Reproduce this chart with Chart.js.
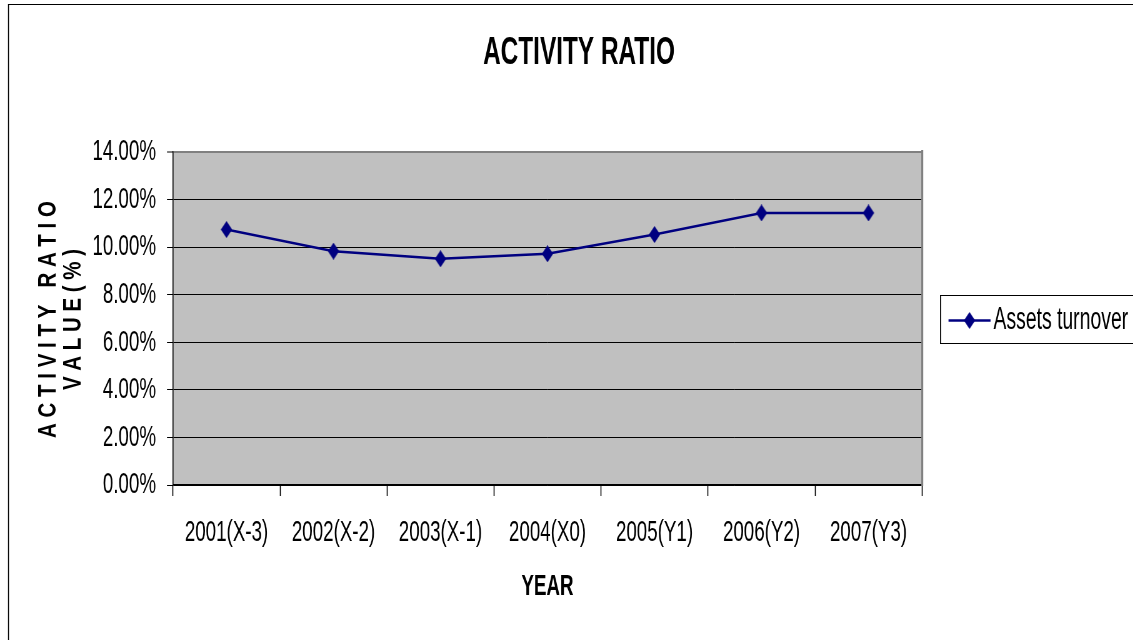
<!DOCTYPE html>
<html lang="en">
<head>
    <meta charset="UTF-8">
    <title>Activity Ratio</title>
    <script src="https://cdn.jsdelivr.net/npm/chart.js"></script>
    <style>
        html, body {
            margin: 0;
            padding: 0;
            background: #ffffff;
            overflow: hidden;
        }

        #ratioChart {
            display: block;
        }
    </style>
</head>
<body>
    <canvas id="ratioChart"></canvas>

    <script>
        const years = ['2001(X-3)', '2002(X-2)', '2003(X-1)', '2004(X0)', '2005(Y1)', '2006(Y2)', '2007(Y3)'];
        const assetsTurnover = [10.74, 9.83, 9.51, 9.72, 10.53, 11.44, 11.44];
        const seriesName = 'Assets turnover';
        const yTitle = ['A C T I V I T Y   R A T I O', 'V A L U E ( % )'];

        // the canvas is drawn SQUEEZE times wider and narrowed back by CSS,
        // which gives the tall condensed lettering
        const SQUEEZE = 1.6;
        const FONT = "'Liberation Sans', Arial, sans-serif";
        const NAVY = '#000080';

        const canvas = document.getElementById('ratioChart');
        canvas.width = Math.round(1150 * SQUEEZE);
        canvas.height = 640;
        canvas.style.width = '1150px';
        canvas.style.height = '640px';

        // screen px -> chart px along x
        const sx = v => v * SQUEEZE;

        // tall diamond marker, used for the points and the legend key
        function makeDiamond(w, h, color) {
            const c = document.createElement('canvas');
            c.width = w;
            c.height = h;
            const g = c.getContext('2d');
            g.fillStyle = color;
            g.beginPath();
            g.moveTo(w / 2, 0);
            g.lineTo(w, h / 2);
            g.lineTo(w / 2, h);
            g.lineTo(0, h / 2);
            g.closePath();
            g.fill();
            return c;
        }
        const diamond = makeDiamond(Math.round(sx(11)), 17, NAVY);

        // grey plot area, outer frame, rotated y title and the boxed legend
        const excelLook = {
            id: 'excelLook',
            beforeDraw(chart) {
                const {ctx, chartArea: a} = chart;
                ctx.save();
                ctx.fillStyle = '#c0c0c0';
                ctx.fillRect(a.left, a.top, a.right - a.left, a.bottom - a.top);
                // frame in screen units so its edges stay 1px wide
                ctx.scale(SQUEEZE, 1);
                ctx.strokeStyle = '#000000';
                ctx.lineWidth = 1;
                ctx.strokeRect(8.5, 4.5, 1139, chart.height + 20);
                ctx.restore();
            },
            afterDraw(chart) {
                const {ctx, chartArea: a} = chart;
                const ds = chart.data.datasets[0];
                const midY = Math.round((a.top + a.bottom) / 2) + 0.5;

                // y axis title: rotated, condensed along the text only
                ctx.save();
                ctx.scale(SQUEEZE, 1);
                ctx.fillStyle = '#000000';
                ctx.font = 'bold 25px ' + FONT;
                ctx.textAlign = 'center';
                ctx.textBaseline = 'middle';
                yTitle.forEach((line, i) => {
                    ctx.save();
                    ctx.translate(49 + i * 25, midY);
                    ctx.rotate(-Math.PI / 2);
                    ctx.scale(1 / 1.22, 1);
                    ctx.fillText(line, 0, 0);
                    ctx.restore();
                });
                ctx.restore();

                // legend box
                const left = Math.round(a.right / SQUEEZE) + 18.5;
                ctx.save();
                ctx.scale(SQUEEZE, 1);
                ctx.strokeStyle = '#000000';
                ctx.lineWidth = 1;
                ctx.strokeRect(left, midY - 24, 205, 48);
                ctx.strokeStyle = ds.borderColor;
                ctx.lineWidth = 2.5;
                ctx.beginPath();
                ctx.moveTo(left + 8, midY + 1);
                ctx.lineTo(left + 50, midY + 1);
                ctx.stroke();
                ctx.restore();
                ctx.save();
                ctx.drawImage(diamond, sx(left + 29) - diamond.width / 2, midY + 1 - diamond.height / 2);
                ctx.fillStyle = '#000000';
                ctx.font = '31px ' + FONT;
                ctx.textBaseline = 'middle';
                ctx.fillText(ds.label, sx(left + 53), midY + 1);
                ctx.restore();
            }
        };

        new Chart(canvas, {
            type: 'line',
            data: {
                labels: years,
                datasets: [{
                    label: seriesName,
                    data: assetsTurnover,
                    borderColor: NAVY,
                    backgroundColor: NAVY,
                    borderWidth: 2.5,
                    pointStyle: diamond,
                    pointRadius: 8,
                    tension: 0,
                    fill: false
                }]
            },
            options: {
                responsive: false,
                animation: false,
                devicePixelRatio: 1,
                layout: {
                    padding: {left: sx(8), top: 4, right: 0, bottom: 0}
                },
                plugins: {
                    legend: {display: false},
                    tooltip: {enabled: false},
                    title: {
                        display: true,
                        text: 'ACTIVITY RATIO',
                        color: '#000000',
                        font: {family: FONT, size: 39, weight: 'bold'},
                        padding: {top: 25.6, bottom: 75.6}
                    }
                },
                scales: {
                    x: {
                        offset: true,
                        afterFit(s) { s.height = 155; },
                        grid: {
                            offset: true,
                            drawOnChartArea: false,
                            drawTicks: true,
                            tickLength: 11,
                            tickWidth: SQUEEZE,
                            tickColor: '#000000'
                        },
                        border: {display: true, color: '#000000', width: 1.5},
                        ticks: {
                            color: '#000000',
                            padding: 19,
                            maxRotation: 0,
                            autoSkip: false,
                            font: {family: FONT, size: 30}
                        },
                        title: {
                            display: true,
                            text: 'YEAR',
                            color: '#000000',
                            font: {family: FONT, size: 30, weight: 'bold'},
                            padding: {top: 0, bottom: 35}
                        }
                    },
                    y: {
                        min: 0,
                        max: 14,
                        afterFit(s) { s.width = sx(165); },
                        grid: {
                            color: ctx => ctx.tick && ctx.tick.value === 14 ? '#808080' : '#000000',
                            lineWidth: ctx => ctx.tick && ctx.tick.value === 14 ? 2 : 1,
                            drawTicks: true,
                            tickLength: sx(6),
                            tickWidth: 1,
                            tickColor: '#000000'
                        },
                        border: {display: true, color: '#000000', width: SQUEEZE},
                        ticks: {
                            stepSize: 2,
                            color: '#000000',
                            padding: sx(11),
                            font: {family: FONT, size: 30},
                            callback: v => v.toFixed(2) + '%'
                        },
                        title: {display: false}
                    },
                    // empty right-hand axis keeps room for the legend box
                    legendSpace: {
                        type: 'linear',
                        position: 'right',
                        afterFit(s) { s.width = sx(1150 - 922); },
                        grid: {display: false},
                        ticks: {display: false},
                        border: {display: true, color: '#808080', width: sx(2)}
                    }
                }
            },
            plugins: [excelLook]
        });
    </script>
</body>
</html>
